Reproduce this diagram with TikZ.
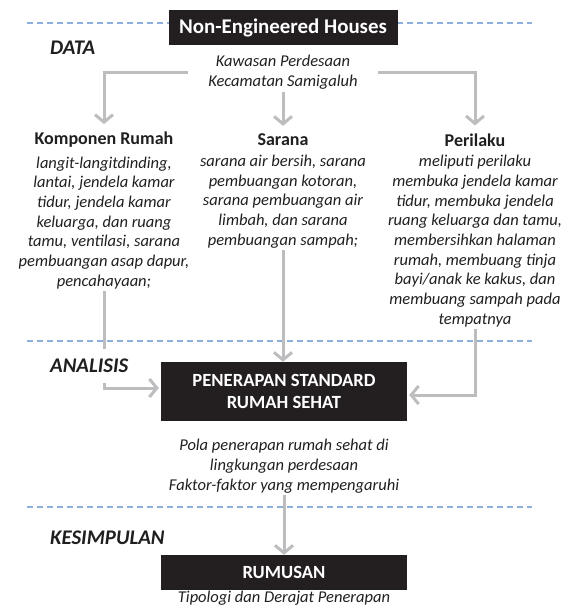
\documentclass[tikz,border=0pt]{standalone}
\usepackage{fontspec}
\setmainfont{Carlito}
\usetikzlibrary{positioning, arrows.meta}
\definecolor{arrowgray}{RGB}{189,189,191}
\definecolor{boxblack}{RGB}{35,31,32}
\definecolor{dashblue}{RGB}{141,176,218}

\begin{document}
\begin{tikzpicture}[
  x=1pt, y=-1pt,
  darkbox/.style={
    fill=boxblack, text=white, align=center,
    font=\bfseries\fontsize{18.6}{22}\selectfont,
    minimum width=246pt, inner sep=4pt
  },
  stage/.style={font=\bfseries\itshape\fontsize{20.8}{22}\selectfont,
    text=black!88, inner sep=2pt},
  colhead/.style={font=\bfseries\fontsize{18}{20}\selectfont,
    text=black!88, inner sep=2pt},
  coltext/.style={font=\itshape\fontsize{16.5}{19.7}\selectfont,
    text=black!88, align=center, inner sep=2pt},
  flow/.style={draw=arrowgray, line width=3pt,
    -{Straight Barb[length=7.5pt, width=18pt]}},
  level/.style={draw=dashblue, line width=1.3pt, dash pattern=on 6pt off 4pt}
]
\useasboundingbox (0,0) rectangle (564,608);

% stage separators
\foreach \ly in {23, 341, 507}
  \draw[level] (27,\ly) -- (532,\ly);

\node[darkbox, minimum width=229pt, minimum height=35pt,
  font=\bfseries\fontsize{20.9}{22}\selectfont] (neh) at (283,27.5) {Non-Engineered Houses};
\node[coltext, inner xsep=20pt] (kaw) at (283,72.5) {Kawasan Perdesaan\\Kecamatan Samigaluh};

\node[stage, anchor=west] (data) at (48,48) {DATA};

% three data columns
\node[colhead] (komp) at (104,140) {Komponen Rumah};
\node[coltext, below=4.5pt of komp] (kompt) {langit-langitdinding,\\lantai, jendela kamar\\tidur, jendela kamar\\keluarga, dan ruang\\tamu, ventilasi, sarana\\pembuangan asap dapur,\\pencahayaan;};

\node[colhead] (sar) at (283,140) {Sarana};
\node[coltext, below=4.5pt of sar] (sart) {sarana air bersih, sarana\\pembuangan kotoran,\\sarana pembuangan air\\limbah, dan sarana\\pembuangan sampah;};

\node[colhead] (peri) at (475,140) {Perilaku};
\node[coltext, below=4.5pt of peri] (perit) {meliputi perilaku\\membuka jendela kamar\\tidur, membuka jendela\\ruang keluarga dan tamu,\\membersihkan halaman\\rumah, membuang tinja\\bayi/anak ke kakus, dan\\membuang sampah pada\\tempatnya};

\draw[flow, shorten >=6pt] (kaw.west) -| (komp.north);
\draw[flow, shorten >=6pt] (kaw.south) -- (sar.north);
\draw[flow, shorten >=6pt] (kaw.east) -| (peri.north);

% analysis
\node[darkbox, minimum height=59pt] (pen) at (284,391.5) {PENERAPAN STANDARD\\RUMAH SEHAT};
\node[coltext, below=16pt of pen] (pola) {Pola penerapan rumah sehat di\\lingkungan perdesaan\\Faktor-faktor yang mempengaruhi};

\draw[flow, shorten >=2pt] (kompt.south) |- ([yshift=3.5pt]pen.west);
\draw[flow] (sart.south) -- (sart.south |- pen.north);
\draw[flow, shorten >=2pt] (perit.south) |- ([yshift=-3.5pt]pen.east);
\node[stage, fill=white, anchor=west, minimum height=34pt] (anal) at (48,366) {ANALISIS};

% conclusion
\node[darkbox, minimum height=35pt] (rum) at (284,572.5) {RUMUSAN};
\node[coltext, below=-1pt of rum] (tipo) {Tipologi dan Derajat Penerapan};
\node[stage, anchor=west] (kes) at (48,538) {KESIMPULAN};

\draw[flow] (pola.south) -- (pola.south |- rum.north);
\end{tikzpicture}
\end{document}
